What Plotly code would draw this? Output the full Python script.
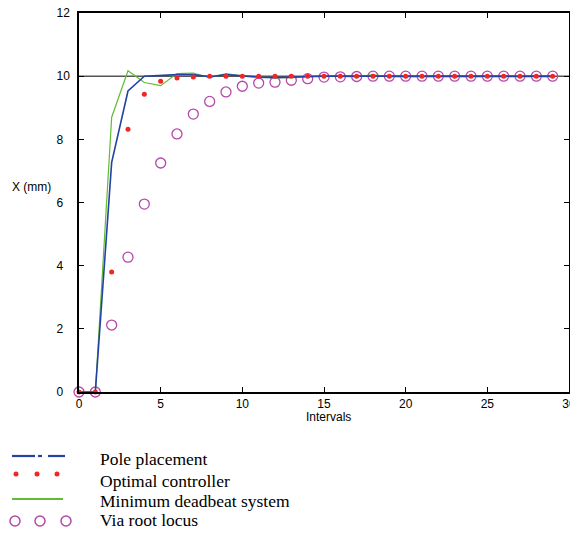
import plotly.graph_objects as go

intervals = list(range(30))
pole_placement = [0, 0, 7.27, 9.53, 10.0, 10.03, 10.05, 10.05, 9.98, 10.05, 10.0, 9.97, 9.95, 9.97, 10.0,
                  10.0, 10.0, 10.0, 10.02, 10.0, 10.0, 10.0, 10.0, 10.0, 10.0, 10.0, 10.0, 10.0, 10.0, 10.0]
optimal = [0, 0, 3.8, 8.32, 9.43, 9.84, 9.94, 9.97, 10.0, 10.0, 10.0, 10.0, 10.0, 10.0, 10.0,
           10.0, 10.0, 10.0, 10.0, 10.0, 10.0, 10.0, 10.0, 10.0, 10.0, 10.0, 10.0, 10.0, 10.0, 10.0]
deadbeat = [0, 0, 8.7, 10.17, 9.8, 9.7, 10.08, 10.1, 9.95, 10.08, 10.0, 9.97, 9.95, 9.95, 10.0,
            10.0, 9.98, 9.98, 10.05, 9.98, 9.98, 9.98, 9.98, 9.98, 9.98, 9.98, 9.98, 9.98, 9.98, 9.98]
root_locus = [0, 0, 2.12, 4.27, 5.95, 7.25, 8.17, 8.8, 9.2, 9.5, 9.68, 9.78, 9.81, 9.87, 9.92,
              9.97, 9.98, 9.99, 10.0, 10.0, 10.0, 10.0, 10.0, 10.0, 10.0, 10.0, 10.0, 10.0, 10.0, 10.0]
reference_level = 10
y_tick_values = [0, 2, 4, 6, 8, 10, 12]
y_tick_labels = ["0", "2", "4", "6", "8", "10", "12"]
legend_labels = ["Pole placement", "Optimal controller", "Minimum deadbeat system", "Via root locus"]

BLUE = "#2343a3"
RED = "#f22525"
GREEN = "#62bb35"
MAG = "#b448a8"

OFF = 8  # page body margin
W, H = 578 - 2 * OFF, 535 - 2 * OFF
# plot area in screen pixels
L, R, T, B = 79, 569, 13, 392

fig = go.Figure()
fig.add_trace(go.Scatter(x=intervals, y=root_locus, mode="markers",
                         marker=dict(symbol="circle-open", size=10, color=MAG, line=dict(width=1.3)),
                         name=legend_labels[3], cliponaxis=False))
fig.add_trace(go.Scatter(x=intervals, y=deadbeat, mode="lines",
                         line=dict(color=GREEN, width=1.2), name=legend_labels[2]))
fig.add_trace(go.Scatter(x=intervals, y=pole_placement, mode="lines",
                         line=dict(color=BLUE, width=1.6), name=legend_labels[0]))
fig.add_trace(go.Scatter(x=intervals, y=optimal, mode="markers",
                         marker=dict(symbol="circle", size=5, color=RED),
                         name=legend_labels[1], cliponaxis=False))

fig.add_shape(type="line", xref="paper", x0=0, x1=1, yref="y", y0=reference_level, y1=reference_level,
              line=dict(color="black", width=1), layer="below")


def px(x):
    return (x - L) / (R - L)


def py(y):
    return (B - y) / (B - T)


shapes = []
for x0, x1 in [(12, 35), (38, 42), (48, 65)]:
    shapes.append(dict(type="line", xref="paper", yref="paper", x0=px(x0), x1=px(x1),
                       y0=py(456), y1=py(456), line=dict(color=BLUE, width=2.2)))
for cx in [16, 37, 57]:
    shapes.append(dict(type="circle", xref="paper", yref="paper", xsizemode="pixel", ysizemode="pixel",
                       xanchor=px(cx), yanchor=py(474), x0=-2.5, x1=2.5, y0=-2.5, y1=2.5,
                       fillcolor=RED, line=dict(width=0)))
shapes.append(dict(type="line", xref="paper", yref="paper", x0=px(12), x1=px(63),
                   y0=py(499), y1=py(499), line=dict(color=GREEN, width=2)))
for cx in [15, 40, 66]:
    shapes.append(dict(type="circle", xref="paper", yref="paper", xsizemode="pixel", ysizemode="pixel",
                       xanchor=px(cx), yanchor=py(521), x0=-5, x1=5, y0=-5, y1=5,
                       line=dict(color=MAG, width=1.5)))
for s in shapes:
    fig.add_shape(**s)

for label, yy in zip(legend_labels, [459, 481, 501, 520]):
    fig.add_annotation(text=label, xref="paper", yref="paper", x=px(98), y=py(yy),
                       xanchor="left", yanchor="middle", showarrow=False,
                       font=dict(family="Liberation Serif", size=17.5, color="black"))

fig.add_annotation(text="X (mm)", xref="paper", yref="paper", x=px(10), y=py(187), xanchor="left",
                   yanchor="middle", showarrow=False,
                   font=dict(family="Liberation Sans", size=12, color="black"))
fig.add_annotation(text="Intervals", xref="paper", yref="paper", x=px(328), y=py(417),
                   xanchor="center", yanchor="middle", showarrow=False,
                   font=dict(family="Liberation Sans", size=12, color="black"))

axis_common = dict(showgrid=False, zeroline=False, showline=True, linecolor="black", linewidth=1.5,
                   mirror="ticks", ticks="inside", ticklen=5, tickcolor="black", automargin=False,
                   ticklabeloverflow="allow",
                   tickfont=dict(family="Liberation Sans", size=12, color="black"))
fig.update_xaxes(range=[0, 30], dtick=5, **axis_common)
# labels appear left-aligned in the reference: pad single digits with a figure space
fig.update_yaxes(range=[0, 12], tickvals=y_tick_values,
                 ticktext=[t + "\u2007" * (2 - len(t)) for t in y_tick_labels],
                 ticklabelstandoff=5, **axis_common)

fig.update_layout(width=W, height=H,
                  margin=dict(l=L - OFF, r=W - (R - OFF), t=T - OFF, b=H - (B - OFF), autoexpand=False),
                  paper_bgcolor="white", plot_bgcolor="white", showlegend=False)

fig.write_html("out.html")
